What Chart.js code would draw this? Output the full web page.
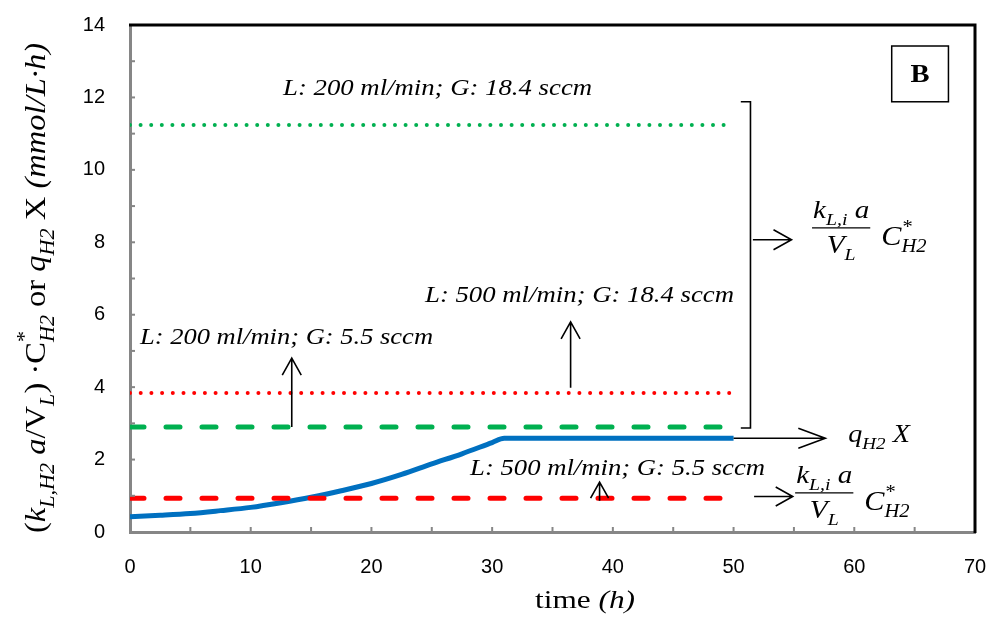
<!DOCTYPE html>
<html>
<head>
<meta charset="utf-8">
<script src="https://cdn.jsdelivr.net/npm/chart.js@4"></script>
<style>
html,body{margin:0;padding:0;background:#fff;}
#wrap{width:990px;height:617px;position:relative;}
</style>
</head>
<body>
<div id="wrap"><canvas id="c" width="990" height="617"></canvas></div>
<script>
// ---- data ----
const timeBlue = [0, 2.5, 5, 7.5, 10, 12.5, 15, 17.5, 20, 22.5, 25, 27.5, 30, 31, 35, 40, 45, 50];
const qH2X     = [0.42, 0.46, 0.51, 0.59, 0.68, 0.81, 0.96, 1.14, 1.34, 1.59, 1.88, 2.16, 2.47, 2.59, 2.59, 2.59, 2.59, 2.59];
const timeFlat = [0, 50];
const kla_L200_G184 = [11.24, 11.24];
const kla_L500_G184 = [3.84, 3.84];
const kla_L200_G55  = [2.90, 2.90];
const kla_L500_G55  = [0.93, 0.93];
const xTicks = [0, 10, 20, 30, 40, 50, 60, 70];
const yTicks = [0, 2, 4, 6, 8, 10, 12, 14];
const labelL200G184 = "L: 200 ml/min; G: 18.4 sccm";
const labelL500G184 = "L: 500 ml/min; G: 18.4 sccm";
const labelL200G55  = "L: 200 ml/min; G: 5.5 sccm";
const labelL500G55  = "L: 500 ml/min; G: 5.5 sccm";
const panelLabel = "B";

const pts = (xs, ys) => xs.map((x, i) => ({x: x, y: ys[i]}));

const SERIF = "'Liberation Serif', 'Times New Roman', serif";

function drawArrow(ctx, x1, y1, x2, y2, len, hw) {
  ctx.beginPath();
  ctx.moveTo(x1, y1); ctx.lineTo(x2, y2);
  const a = Math.atan2(y2 - y1, x2 - x1);
  const ux = Math.cos(a), uy = Math.sin(a);
  const px = -uy, py = ux;
  ctx.moveTo(x2 - ux * len + px * hw, y2 - uy * len + py * hw);
  ctx.lineTo(x2, y2);
  ctx.lineTo(x2 - ux * len - px * hw, y2 - uy * len - py * hw);
  ctx.stroke();
}

function richWidth(ctx, segs, size) {
  let w = 0;
  for (const s of segs) {
    const sz = !s.pos ? size : size * 0.68;
    ctx.font = (s.it ? 'italic ' : '') + sz + 'px ' + SERIF;
    if (!s.noadv) w += ctx.measureText(s.t).width;
  }
  return w;
}
function drawRich(ctx, segs, x, y, size) {
  let cx = x;
  for (const s of segs) {
    const sz = !s.pos ? size : size * 0.68;
    ctx.font = (s.it ? 'italic ' : '') + sz + 'px ' + SERIF;
    let dy = 0;
    if (s.pos === 'sub') dy = size * 0.28;
    if (s.pos === 'sup') dy = -size * 0.45;
    ctx.fillText(s.t, cx, y + dy);
    if (!s.noadv) cx += ctx.measureText(s.t).width;
  }
  return cx;
}
function drawRichS(ctx, segs, x, y, size, sx) {
  ctx.save();
  ctx.translate(x, y);
  ctx.scale(sx, 1);
  drawRich(ctx, segs, 0, 0, size);
  ctx.restore();
}
function fillFit(ctx, text, x, y, targetW) {
  const w = ctx.measureText(text).width;
  ctx.save();
  ctx.translate(x, y);
  ctx.scale(targetW / w, 1);
  ctx.fillText(text, 0, 0);
  ctx.restore();
}

const MSX = 1.12;
function drawFraction(ctx, x, lineY, size) {
  const num = [{t:'k', it:true}, {t:'L,i', it:true, pos:'sub'}, {t:' a', it:true}];
  const den = [{t:'V', it:true}, {t:'L', it:true, pos:'sub'}];
  const wn = richWidth(ctx, num, size) * MSX;
  const wd = richWidth(ctx, den, size) * MSX;
  const w = Math.max(wn, wd) + 2;
  ctx.textBaseline = 'alphabetic';
  ctx.textAlign = 'left';
  drawRichS(ctx, num, x + (w - wn) / 2, lineY - 10, size, MSX);
  drawRichS(ctx, den, x + (w - wd) / 2, lineY + 25, size, MSX);
  ctx.lineWidth = 1.3;
  ctx.beginPath(); ctx.moveTo(x, lineY); ctx.lineTo(x + w, lineY); ctx.stroke();
  const cx = x + w + 11;
  drawRichS(ctx, [{t:'C', it:true}, {t:'*', it:true, pos:'sup', noadv:true}, {t:'H2', it:true, pos:'sub'}], cx, lineY + 17, size + 1, MSX);
}

const deco = {
  id: 'deco',
  afterDatasetsDraw(chart) {
    const ctx = chart.ctx;
    const xs = chart.scales.x, ys = chart.scales.y;
    const X = v => xs.getPixelForValue(v), Y = v => ys.getPixelForValue(v);
    const ca = chart.chartArea;
    ctx.save();
    // minor ticks (inward)
    ctx.strokeStyle = '#868686';
    ctx.lineWidth = 2;
    for (let v = 1; v < 14; v++) {
      ctx.beginPath(); ctx.moveTo(ca.left, Y(v)); ctx.lineTo(ca.left + 5, Y(v)); ctx.stroke();
    }
    for (let v = 5; v < 70; v += 5) {
      ctx.beginPath(); ctx.moveTo(X(v), ca.bottom); ctx.lineTo(X(v), ca.bottom - 5); ctx.stroke();
    }
    // top and right frame
    ctx.strokeStyle = '#000';
    ctx.lineWidth = 3;
    ctx.beginPath();
    ctx.moveTo(ca.left - 1, ca.top); ctx.lineTo(ca.right, ca.top); ctx.lineTo(ca.right, ca.bottom + 1);
    ctx.stroke();

    // annotation labels
    ctx.fillStyle = '#000';
    ctx.textAlign = 'left';
    ctx.textBaseline = 'alphabetic';
    ctx.font = 'italic 23px ' + SERIF;
    fillFit(ctx, labelL200G184, X(12.68), Y(12.07), 309);
    fillFit(ctx, labelL500G184, X(24.44), Y(6.35), 309);
    fillFit(ctx, labelL200G55, X(0.83), Y(5.19), 293);
    fillFit(ctx, labelL500G55, X(28.17), Y(1.57), 295);

    // arrows
    ctx.strokeStyle = '#000';
    ctx.lineWidth = 1.6;
    drawArrow(ctx, X(13.4), Y(2.9), X(13.4), Y(4.8), 17, 9.5);
    drawArrow(ctx, X(36.5), Y(3.98), X(36.5), Y(5.8), 17, 9.5);
    drawArrow(ctx, X(38.9), Y(0.86), X(38.9), Y(1.38), 16, 9);
    // bracket
    ctx.beginPath();
    ctx.moveTo(X(50.6), Y(11.88)); ctx.lineTo(X(51.4), Y(11.88));
    ctx.lineTo(X(51.4), Y(2.87)); ctx.lineTo(X(50.6), Y(2.87));
    ctx.stroke();
    drawArrow(ctx, X(51.6), Y(8.07), X(54.8), Y(8.07), 18, 10);
    drawArrow(ctx, X(50.0), Y(2.59), X(57.6), Y(2.59), 27, 10);
    drawArrow(ctx, X(51.7), Y(0.98), X(54.9), Y(0.98), 17, 9.5);

    // math labels
    drawFraction(ctx, X(56.5), Y(8.40), 26);
    drawFraction(ctx, X(55.1), Y(1.08), 26);
    drawRichS(ctx, [{t:'q', it:true}, {t:'H2', it:true, pos:'sub'}, {t:' X', it:true}], X(59.5), Y(2.49), 26, 1.08);

    // panel label box
    ctx.lineWidth = 1.5;
    const bx1 = X(63.1), bx2 = X(67.8), by1 = Y(13.42), by2 = Y(11.88);
    ctx.strokeRect(bx1, by1, bx2 - bx1, by2 - by1);
    ctx.font = 'bold 26px ' + SERIF;
    ctx.textAlign = 'center';
    ctx.textBaseline = 'middle';
    ctx.save();
    ctx.translate((bx1 + bx2) / 2, (by1 + by2) / 2 + 1);
    ctx.scale(1.1, 1);
    ctx.fillText(panelLabel, 0, 0);
    ctx.restore();

    // y-axis title (rotated)
    const yt = [
      {t:'(', it:false}, {t:'k', it:true}, {t:'L,H2', it:true, pos:'sub'}, {t:' a', it:true},
      {t:'/', it:false}, {t:'V', it:false}, {t:'L', it:true, pos:'sub'}, {t:') ·', it:false},
      {t:'C', it:false}, {t:'*', it:false, pos:'sup', noadv:true}, {t:'H2', it:true, pos:'sub'},
      {t:' or ', it:false}, {t:'q', it:true}, {t:'H2', it:true, pos:'sub'}, {t:' X ', it:false},
      {t:'(mmol/L·h)', it:true}
    ];
    ctx.save();
    ctx.translate(45, 288);
    ctx.rotate(-Math.PI / 2);
    ctx.textAlign = 'left';
    ctx.textBaseline = 'alphabetic';
    const sz = 29;
    const tw = richWidth(ctx, yt, sz);
    const k = 490 / tw;
    ctx.scale(k, 1.05);
    drawRich(ctx, yt, -tw / 2, 0, sz);
    ctx.restore();

    // x-axis title
    ctx.textAlign = 'left';
    ctx.textBaseline = 'alphabetic';
    const xt = [{t:'time ', it:false}, {t:'(h)', it:true}];
    const xw = richWidth(ctx, xt, 25);
    const xk = 100 / xw;
    drawRichS(ctx, xt, 585 - 50, 608, 25, xk);
    ctx.restore();
  }
};

const tickFont = { family: "'Liberation Sans', Arial, sans-serif", size: 20 };
const hiddenGrid = (len) => ({ display: true, drawOnChartArea: false, drawTicks: true, tickLength: len, color: 'rgba(0,0,0,0)', tickColor: 'rgba(0,0,0,0)' });

new Chart(document.getElementById('c'), {
  type: 'scatter',
  data: {
    datasets: [
      { data: pts(timeFlat, kla_L200_G184), borderColor: '#00B050', borderWidth: 4, borderDash: [0, 10.6], borderCapStyle: 'round' },
      { data: pts(timeFlat, kla_L500_G184), borderColor: '#FF0000', borderWidth: 4, borderDash: [0, 10.7], borderCapStyle: 'round' },
      { data: pts(timeFlat, kla_L200_G55),  borderColor: '#00B050', borderWidth: 5, borderDash: [14, 22], borderCapStyle: 'round' },
      { data: pts(timeFlat, kla_L500_G55),  borderColor: '#FF0000', borderWidth: 5, borderDash: [14, 22], borderCapStyle: 'round' },
      { data: pts(timeBlue, qH2X), borderColor: '#0070C0', borderWidth: 5, cubicInterpolationMode: 'monotone', borderCapStyle: 'butt' }
    ].map(d => Object.assign({ showLine: true, pointRadius: 0, pointHoverRadius: 0, fill: false }, d))
  },
  options: {
    responsive: false,
    animation: false,
    events: [],
    layout: { padding: { left: 0, right: 15, top: 25, bottom: 0 } },
    plugins: { legend: { display: false }, tooltip: { enabled: false } },
    scales: {
      x: {
        type: 'linear', min: 0, max: 70,
        afterFit: s => { s.height = 85; },
        afterBuildTicks: s => { s.ticks = xTicks.map(v => ({value: v})); },
        grid: hiddenGrid(23),
        border: { display: true, color: '#868686', width: 3 },
        ticks: { padding: 0, color: '#000', font: tickFont, maxRotation: 0, autoSkip: false }
      },
      y: {
        type: 'linear', min: 0, max: 14,
        afterFit: s => { s.width = 130; },
        afterBuildTicks: s => { s.ticks = yTicks.map(v => ({value: v})); },
        grid: hiddenGrid(25),
        border: { display: true, color: '#868686', width: 3 },
        ticks: { padding: 0, color: '#000', font: tickFont, autoSkip: false }
      }
    }
  },
  plugins: [deco]
});
</script>
</body>
</html>
